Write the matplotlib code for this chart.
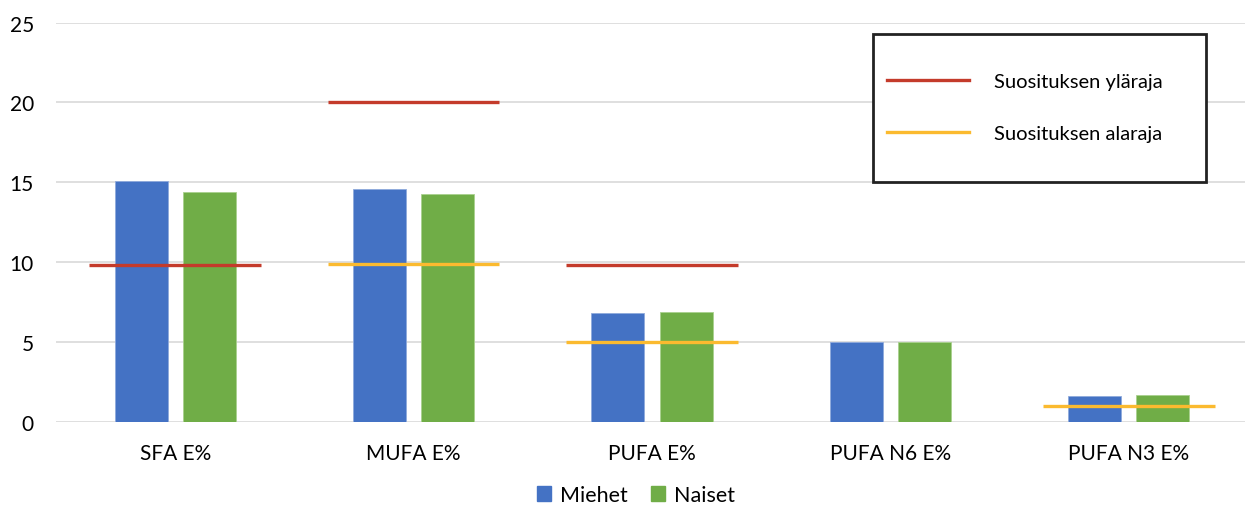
import matplotlib
matplotlib.use("Agg")
import matplotlib.pyplot as plt
from matplotlib.lines import Line2D
from matplotlib.patches import Rectangle, Patch
import numpy as np

plt.rcParams['font.family'] = ['Lato', 'DejaVu Sans']

categories = ["SFA E%", "MUFA E%", "PUFA E%", "PUFA N6 E%", "PUFA N3 E%"]
miehet = [15.1, 14.55, 6.8, 5.0, 1.6]
naiset = [14.4, 14.25, 6.9, 5.0, 1.7]
# Recommendation limits per category (None = no limit drawn)
ylaraja = [9.8, 20.0, 9.8, None, None]
alaraja = [None, 9.9, 5.0, None, 1.0]

series_names = ["Miehet", "Naiset"]
limit_names = ["Suosituksen yläraja", "Suosituksen alaraja"]

blue = "#4472C4"
green = "#70AD47"
red = "#C43B2B"
yellow = "#FBBA2F"

W, H = 1245, 506
fig = plt.figure(figsize=(W / 100, H / 100), dpi=100)
ax = fig.add_axes([56 / W, 1 - 422.8 / H, (1248 - 56) / W, (422.8 - 23.5) / H])

x = np.arange(len(categories))
bw = 0.2225
off = 0.143
ax.bar(x - off, miehet, bw, color=blue, edgecolor="#8FAADC", linewidth=0.6, zorder=2)
ax.bar(x + off, naiset, bw, color=green, edgecolor="#A9D18E", linewidth=0.6, zorder=2)

half = 0.36
for i, v in enumerate(ylaraja):
    if v is not None:
        ax.hlines(v, i - half, i + half, color=red, linewidth=2.4, zorder=3)
for i, v in enumerate(alaraja):
    if v is not None:
        ax.hlines(v, i - half, i + half, color=yellow, linewidth=2.4, zorder=3)

ax.set_xlim(-0.5, 4.5)
ax.set_ylim(0, 25)
ax.set_yticks(np.arange(0, 26, 5))
ax.set_xticks(x)
ax.set_xticklabels(categories)
ax.yaxis.grid(True, color="#D9D9D9", linewidth=1.2, zorder=0)
ax.set_axisbelow(True)
for s in ax.spines.values():
    s.set_visible(False)
ax.tick_params(axis="both", length=0, labelsize=15, colors="#000000")
ax.tick_params(axis="x", pad=15)
ax.tick_params(axis="y", pad=16)

# Framed box for the recommendation limits
fig.patches.append(Rectangle((873 / W, 1 - 183 / H), (1206 - 873) / W, (183 - 35) / H,
                             transform=fig.transFigure, fill=True, facecolor="white",
                             edgecolor="#222222", linewidth=2.0, zorder=5))
limit_handles = [Line2D([], [], color=red, linewidth=2.4),
                 Line2D([], [], color=yellow, linewidth=2.4)]
fig.legend(limit_handles, limit_names, loc="upper left",
           bbox_to_anchor=(887 / W, 1 - 74 / H), frameon=False, fontsize=14.5,
           handlelength=4.06, handletextpad=1.23, labelspacing=1.72, borderpad=0,
           borderaxespad=0).set_zorder(6)

# Series legend under the chart
series_handles = [Patch(color=blue), Patch(color=green)]
fig.legend(series_handles, series_names, loc="center", ncol=2,
           bbox_to_anchor=(636 / W, 1 - 496 / H), frameon=False, fontsize=15.5,
           handlelength=0.65, handleheight=0.65, handletextpad=0.4, columnspacing=1.1)

fig.savefig("out.png", dpi=100)
